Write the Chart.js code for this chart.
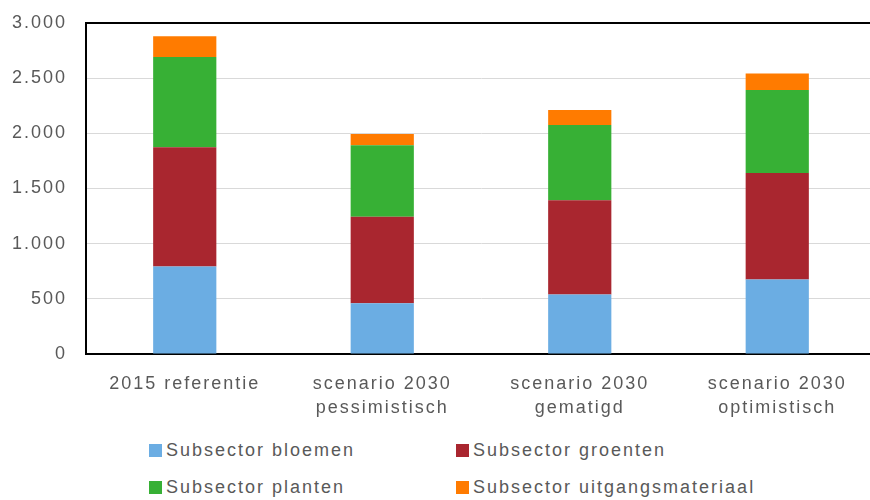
<!DOCTYPE html>
<html lang="nl">
<head>
    <meta charset="UTF-8">
    <title>Subsectoren 2015 en scenario's 2030</title>
    <script src="https://cdn.jsdelivr.net/npm/chart.js"></script>
    <style>
        body {
            margin: 0;
            overflow: hidden;
            background: #fff;
            font-family: 'Liberation Sans', Arial, sans-serif;
        }
        .chart-box {
            position: relative;
            width: 876px;
            height: 424px;
        }
        .legend {
            position: absolute;
            left: 0;
            top: 0;
            width: 870px;
            color: #595959;
            font-size: 18px;
            letter-spacing: 2px;
        }
        .legend .item {
            position: absolute;
            white-space: nowrap;
            line-height: 20px;
        }
        .legend .box {
            display: inline-block;
            width: 13px;
            height: 13px;
            margin-right: 4px;
            vertical-align: -1px;
        }
    </style>
</head>
<body>
    <div class="chart-box">
        <canvas id="stackChart"></canvas>
    </div>
    <div class="legend" id="legend"></div>

    <script>
        const categories = [
            ['2015 referentie'],
            ['scenario 2030', 'pessimistisch'],
            ['scenario 2030', 'gematigd'],
            ['scenario 2030', 'optimistisch']
        ];
        const bloemen = [793, 460, 539, 675];
        const groenten = [1080, 783, 854, 966];
        const planten = [819, 648, 683, 752];
        const uitgangsmateriaal = [187, 104, 136, 150];
        const yTicks = [0, 500, 1000, 1500, 2000, 2500, 3000];

        const seriesNames = ['Subsector bloemen', 'Subsector groenten', 'Subsector planten', 'Subsector uitgangsmateriaal'];
        const seriesColors = ['#6BADE3', '#A9262F', '#37B035', '#FF7B00'];
        const seriesData = [bloemen, groenten, planten, uitgangsmateriaal];

        const textColor = '#595959';
        const fontFamily = "'Liberation Sans', Arial, sans-serif";
        const yMax = 3000;

        function formatNumber(v) {
            return String(v).replace(/\B(?=(\d{3})+(?!\d))/g, '.');
        }

        // excel-achtige letterafstand op het canvas
        const spacingPlugin = {
            id: 'spacing',
            beforeLayout(chart) { chart.ctx.letterSpacing = '2px'; },
            beforeDraw(chart) { chart.ctx.letterSpacing = '2px'; }
        };

        const ctx = document.getElementById('stackChart').getContext('2d');
        const chart = new Chart(ctx, {
            type: 'bar',
            data: {
                labels: categories,
                datasets: seriesNames.map((name, i) => ({
                    label: name,
                    data: seriesData[i],
                    backgroundColor: seriesColors[i],
                    borderWidth: 0,
                    categoryPercentage: 0.32,
                    barPercentage: 1
                }))
            },
            options: {
                responsive: true,
                maintainAspectRatio: false,
                animation: false,
                layout: {
                    padding: { top: 23, left: 0, right: 0, bottom: 0 }
                },
                plugins: {
                    legend: { display: false },
                    tooltip: { enabled: false }
                },
                scales: {
                    x: {
                        stacked: true,
                        grid: { display: false },
                        border: { color: '#000', width: 2 },
                        ticks: {
                            color: textColor,
                            padding: 10,
                            maxRotation: 0,
                            autoSkip: false,
                            font: { family: fontFamily, size: 18, lineHeight: 1.33 }
                        },
                        afterFit(axis) { axis.height = 70; }
                    },
                    y: {
                        stacked: true,
                        min: 0,
                        max: yMax,
                        afterBuildTicks(axis) {
                            axis.ticks = yTicks.map(v => ({ value: v }));
                        },
                        grid: {
                            // bovenste rasterlijn is de zwarte rand van het plotvlak
                            color: c => c.tick && c.tick.value === yMax ? '#000' : '#d9d9d9',
                            lineWidth: c => c.tick && c.tick.value === yMax ? 2 : 1,
                            drawTicks: false
                        },
                        border: { color: '#000', width: 2 },
                        ticks: {
                            color: textColor,
                            padding: 19,
                            font: { family: fontFamily, size: 18 },
                            callback: v => formatNumber(v)
                        },
                        afterFit(axis) {
                            axis.width = 86;
                            // de tick-padding hoort niet boven/onder het plotvlak
                            axis.paddingTop = 11;
                            axis.paddingBottom = 11;
                        }
                    }
                }
            },
            plugins: [spacingPlugin]
        });
        chart.update();

        // legenda in twee kolommen, zoals in het origineel
        const legend = document.getElementById('legend');
        const colX = [149, 456];
        const rowY = [440, 477];
        seriesNames.forEach((name, i) => {
            const item = document.createElement('div');
            item.className = 'item';
            item.style.left = colX[i % 2] + 'px';
            item.style.top = rowY[Math.floor(i / 2)] + 'px';
            item.innerHTML = '<span class="box" style="background:' + seriesColors[i] + '"></span>' + name;
            legend.appendChild(item);
        });
    </script>
</body>
</html>
